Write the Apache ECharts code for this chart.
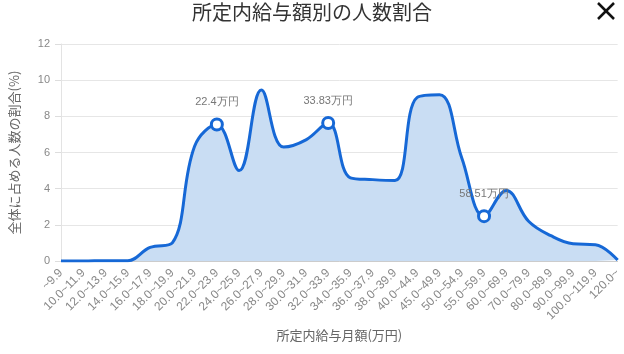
<!DOCTYPE html>
<html><head><meta charset="utf-8">
<script src="https://cdn.jsdelivr.net/npm/echarts@6/dist/echarts.min.js"></script>
<style>html,body{margin:0;padding:0;background:#fff}#c{width:624px;height:354px}</style>
</head><body><div id="c"></div>
<script>
const categories = ['~9.9','10.0~11.9','12.0~13.9','14.0~15.9','16.0~17.9','18.0~19.9','20.0~21.9','22.0~23.9','24.0~25.9','26.0~27.9','28.0~29.9','30.0~31.9','32.0~33.9','34.0~35.9','36.0~37.9','38.0~39.9','40.0~44.9','45.0~49.9','50.0~54.9','55.0~59.9','60.0~69.9','70.0~79.9','80.0~89.9','90.0~99.9','100.0~119.9','120.0~'];
const values = [0,0,0.02,0.02,0.75,1.0,6.35,7.55,5.0,9.45,6.3,6.7,7.63,4.6,4.5,4.45,9.05,9.2,5.7,2.48,3.9,2.2,1.4,0.95,0.9,0.05];
const markIndex = [7,12,19];
const markLabels = ['22.4万円','33.83万円','58.51万円'];
const yTicks = [0,2,4,6,8,10,12];

const BLUE = '#1668d6';
const data = values.map((v,i)=>{
  const k = markIndex.indexOf(i);
  if (k < 0) return {value:v, symbol:'none'};
  return {value:v, symbol:'circle', symbolSize:11,
    itemStyle:{color:'#fff', borderColor:BLUE, borderWidth:3},
    label:{show:true, formatter:markLabels[k], position:'top', distance:10, color:'#777', fontSize:11, fontFamily:'Liberation Sans'}};
});
const chart = echarts.init(document.getElementById('c'));
chart.setOption({
  animation:false,
  title:{text:'所定内給与額別の人数割合', left:'center', top:-3, textStyle:{fontSize:20, fontWeight:'normal', color:'#333', fontFamily:'Noto Sans CJK JP'}},
  grid:{left:55, right:0, top:44, bottom:93, containLabel:false},
  xAxis:{type:'category', data:categories, boundaryGap:false,
    name:'所定内給与月額(万円)', nameLocation:'middle', nameGap:62,
    nameTextStyle:{color:'#666', fontSize:13, fontFamily:'Noto Sans CJK JP'},
    axisLine:{lineStyle:{color:'#ccc'}}, axisTick:{show:false},
    axisLabel:{rotate:45, interval:0, color:'#888', fontSize:12, margin:10, fontFamily:'Liberation Sans'}},
  yAxis:{type:'value', min:0, max:12, interval:2,
    name:'全体に占める人数の割合(%)', nameLocation:'middle', nameGap:40,
    nameTextStyle:{color:'#666', fontSize:13, fontFamily:'Noto Sans CJK JP'},
    axisLine:{show:true, lineStyle:{color:'#e3e3e3'}},
    axisTick:{show:true, length:6, lineStyle:{color:'#ddd'}},
    splitLine:{lineStyle:{color:'#e6e6e6'}},
    axisLabel:{color:'#888', fontSize:11, margin:11, fontFamily:'Liberation Sans',
      formatter:v=>yTicks.includes(v)?String(v):''}},
  series:[{type:'line', smooth:0.4, data:data, symbol:'none',
    lineStyle:{color:BLUE, width:3}, itemStyle:{color:BLUE},
    areaStyle:{color:'#c9ddf3', opacity:1}, z:3}],
  graphic:[
    {type:'line', shape:{x1:598,y1:3,x2:614,y2:19}, style:{stroke:'#111', lineWidth:2.5}},
    {type:'line', shape:{x1:614,y1:3,x2:598,y2:19}, style:{stroke:'#111', lineWidth:2.5}}
  ]
});
</script></body></html>
